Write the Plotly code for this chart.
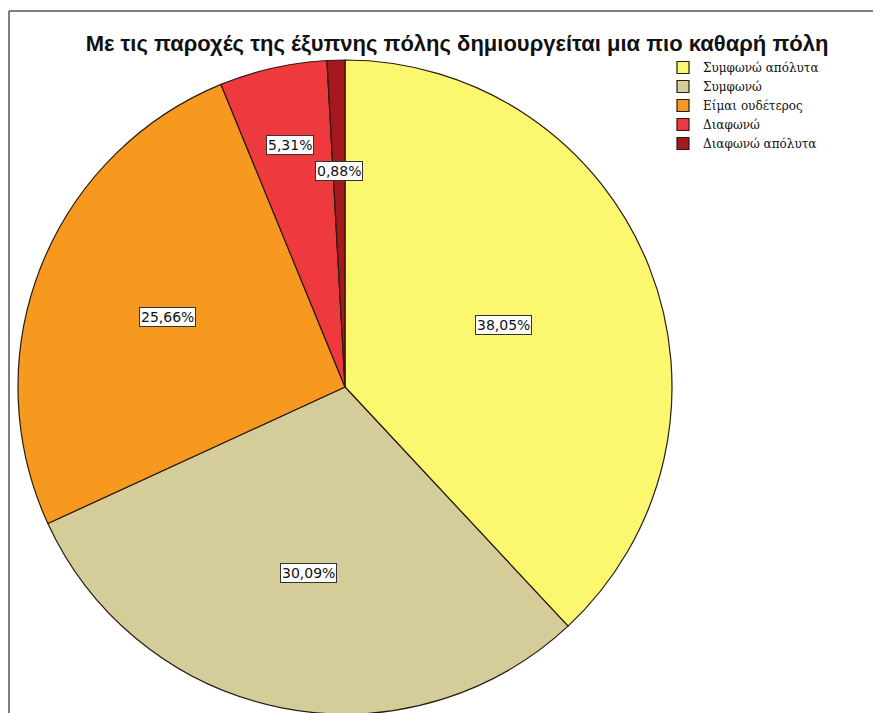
import math
import plotly.graph_objects as go

# Με τις παροχές της έξυπνης πόλης ... (N = 113)
categories = ["Συμφωνώ απόλυτα", "Συμφωνώ", "Είμαι ουδέτερος", "Διαφωνώ", "Διαφωνώ απόλυτα"]
percentages = [38.05, 30.09, 25.66, 5.31, 0.88]
pct_labels = ["38,05%", "30,09%", "25,66%", "5,31%", "0,88%"]
colors = ["#FBF870", "#D4CD99", "#F8991F", "#EE3A3E", "#A3191D"]

W, H = 881, 713
OFF = 8  # page body margin shifts the whole figure
# pie box in pixels (as seen on the page)
px0, px1 = 18 - OFF, 672 - OFF
py0, py1 = 60 - OFF, 714 - OFF
cx, cy = (px0 + px1) / 2, (py0 + py1) / 2
R = (px1 - px0) / 2
label_r = [0.52, 0.58, 0.585, 0.76, 0.66]  # where the boxed labels sit, as share of radius

fig = go.Figure()
fig.add_pie(labels=categories, values=percentages, sort=False,
            direction='clockwise', rotation=0,
            marker=dict(colors=colors, line=dict(color='#2a1a10', width=1.2)),
            textinfo='none', hoverinfo='label+percent',
            domain=dict(x=[px0 / W, px1 / W], y=[1 - py1 / H, 1 - py0 / H]))

# boxed percentage labels, placed at each slice's middle angle
cum = 0
total = sum(percentages)
for v, txt, rf in zip(percentages, pct_labels, label_r):
    mid = (cum + v / 2) / total * 2 * math.pi
    cum += v
    x = cx + rf * R * math.sin(mid)
    y = cy - rf * R * math.cos(mid)
    fig.add_annotation(x=x / W, y=1 - y / H, xref='paper', yref='paper',
                       xanchor='center', yanchor='middle',
                       text=txt, showarrow=False,
                       font=dict(family='DejaVu Sans, Verdana', size=14, color='#111'),
                       bgcolor='white', bordercolor='#333', borderwidth=1, borderpad=1)

# outer frame
fig.add_shape(type='line', xref='paper', yref='paper',
              x0=1 / W, x1=1.01, y0=1 - 3 / H, y1=1 - 3 / H,
              line=dict(color='#555', width=1.5))
fig.add_shape(type='line', xref='paper', yref='paper',
              x0=1 / W, x1=1 / W, y0=1 - 3 / H, y1=-0.01,
              line=dict(color='#555', width=1.5))

fig.update_layout(
    width=W, height=H,
    margin=dict(l=0, r=0, t=0, b=0),
    paper_bgcolor='white', plot_bgcolor='white',
    title=dict(text='<b>Με τις παροχές της έξυπνης πόλης δημιουργείται μια πιο καθαρή πόλη</b>',
               x=(457 - OFF) / W, xanchor='center', y=1 - (43 - OFF) / H, yanchor='middle',
               font=dict(family='Liberation Sans, Arial', size=22, color='#111')),
    legend=dict(x=(663 - OFF) / W, y=1 - (53 - OFF) / H, xanchor='left', yanchor='top',
                font=dict(family='DejaVu Serif, Liberation Serif', size=12, color='#111'),
                tracegroupgap=0, itemwidth=30, bgcolor='rgba(0,0,0,0)'),
    showlegend=True,
)

fig.write_html("out.html")
